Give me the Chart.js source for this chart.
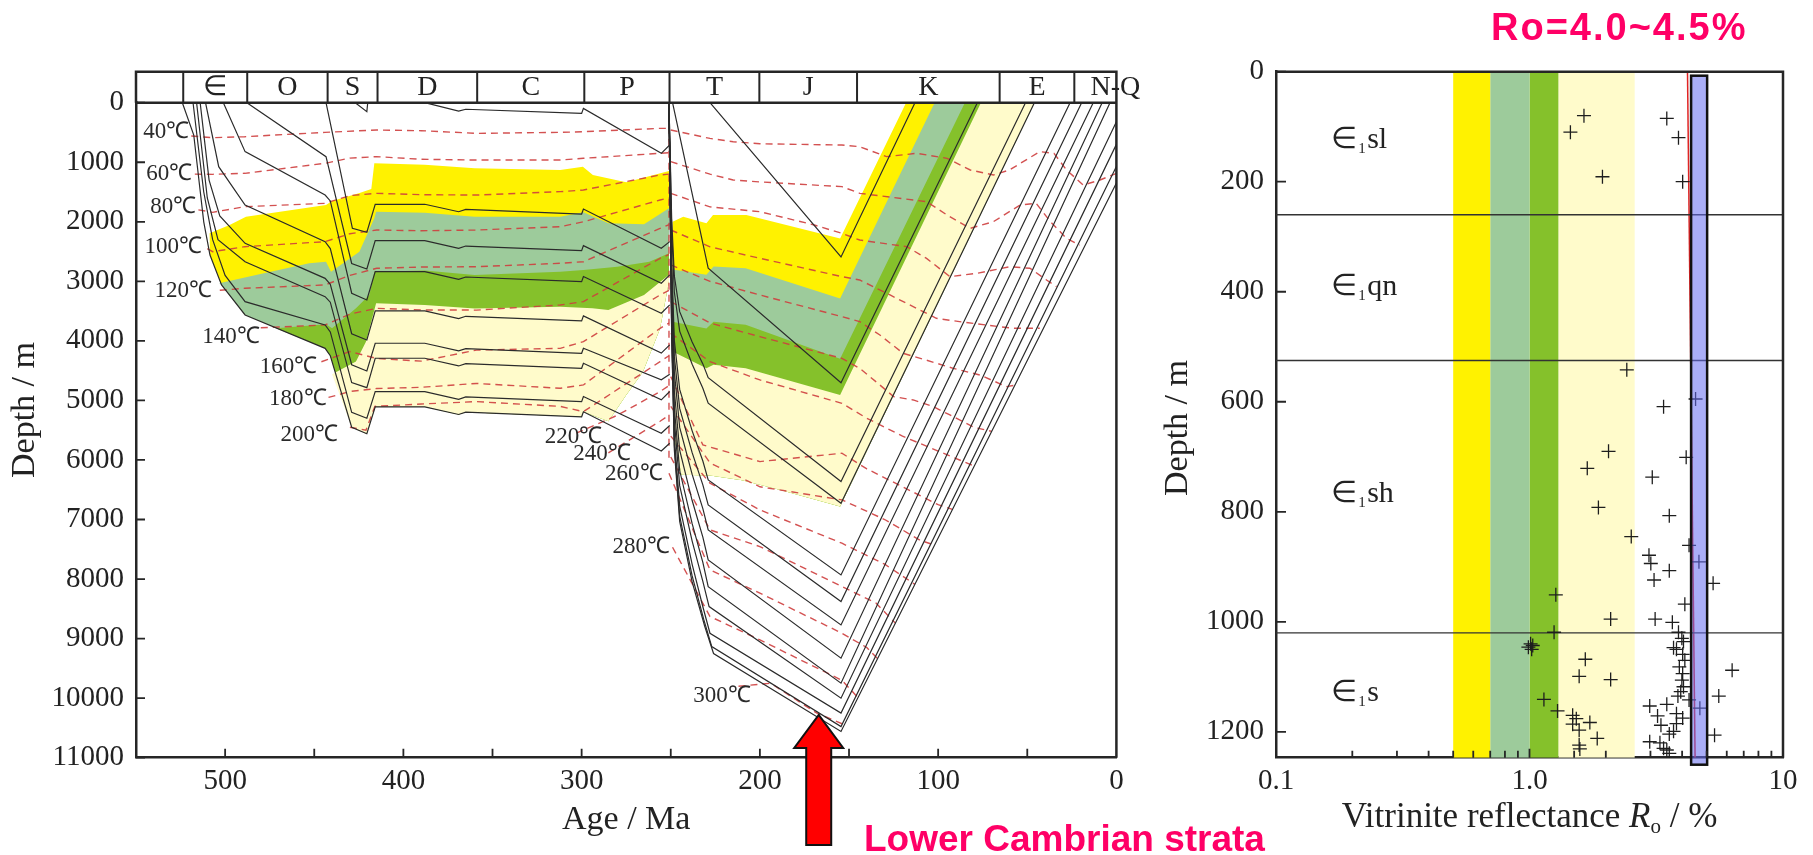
<!DOCTYPE html>
<html>
<head>
<meta charset="utf-8">
<title>Burial history and vitrinite reflectance</title>
<script src="https://cdn.jsdelivr.net/npm/chart.js@4.4.1/dist/chart.umd.min.js"></script>
<style>
  html, body { margin: 0; padding: 0; background: #fff; }
  body { position: relative; width: 1813px; height: 855px; overflow: hidden; }
  #burialChart { position: absolute; left: 0; top: 0; }
  #roChart { position: absolute; left: 1160px; top: 0; }
  .note { position: absolute; color: #ff0066; font: bold 37px/37px "Liberation Sans", Arial, sans-serif; white-space: nowrap; }
</style>
</head>
<body>
<canvas id="burialChart" width="1160" height="855"></canvas>
<canvas id="roChart" width="653" height="855"></canvas>
<div class="note" style="left:864px; top:820px;">Lower Cambrian strata</div>
<div class="note" style="left:1491px; top:8px; font-size:38px; line-height:38px; letter-spacing:2px;">Ro=4.0~4.5%</div>
<script>
// ---------- burial history (age Ma, depth m) ----------
const periodNames = ['∈', 'O', 'S', 'D', 'C', 'P', 'T', 'J', 'K', 'E', 'N-Q'];
const periodBounds = [523.5, 487.6, 442.5, 414.5, 358.6, 298.5, 250.7, 200.3, 145.5, 65.5, 23.6, 0];

// horizons, Cambrian to Permian
const burialLinesLeft = [
  [[388,0],[369,140],[365,110],[300,180],[299,95],[255.3,850],[250.6,710]],
  [[427,0],[420.5,150],[420,0]],
  [[443.4,0],[428.6,2110],[420.5,2176],[415.8,1706],[388,1706],[369,1831],[365,1792],[300,1870],[299,1785],[255.3,2445],[250.6,2333]],
  [[487.8,0],[443.4,906],[429,2700],[420.5,2793],[415.8,2317],[388,2317],[369,2446],[365,2407],[300,2485],[299,2400],[255.3,3031],[250.6,2892]],
  [[501,0],[488.8,822],[443.9,1550],[441,1650],[429,3200],[420.5,3313],[415.8,2837],[388,2837],[369,2966],[365,2927],[300,3005],[299,2920],[255.3,3535],[250.6,3395]],
  [[511,0],[503.6,1074],[488.8,1718],[443.9,2334],[441,2450],[429,3880],[420.5,3985],[415.8,3497],[388,3497],[369,3626],[365,3587],[300,3665],[299,3580],[255.3,4206],[250.6,4066]],
  [[514,0],[509,1300],[503,1900],[488.8,2362],[443.9,2950],[441,3050],[429,4400],[420.5,4505],[415.8,4040],[388,4040],[369,4169],[365,4130],[300,4208],[299,4123],[255.3,4654],[250.6,4560]],
  [[516,0],[510,1600],[504,2300],[488.8,2670],[443.9,3257],[441,3350],[429,4700],[420.5,4785],[415.8,4292],[388,4292],[369,4421],[365,4382],[300,4460],[299,4375],[255.3,4990],[250.6,4850]],
  [[518,0],[512,1500],[507,2300],[500,2900],[488.8,3341],[443.9,3733],[441,3850],[429,5200],[420.5,5300],[415.8,4852],[388,4852],[369,4981],[365,4942],[300,5020],[299,4935],[255.3,5550],[250.6,5420]],
  [[524,0],[517.6,543],[512,2000],[508.5,2558],[502,3061],[488.8,3565],[443.9,4125],[441,4250],[429,5450],[420.5,5560],[415.8,5107],[388,5107],[369,5236],[365,5197],[300,5275],[299,5190],[255.3,5850],[250.6,5720]]
];

// horizons, Triassic to present
const burialLinesRight = [
  [[228,0],[154.5,2590],[113,0]],
  [[249,0],[229,2780],[154.5,4704],[78,0]],
  [[251,0],[249.5,1939],[248,2909],[245,3509],[238,4017],[232,4386],[229,4617],[154.5,6363],[51,0]],
  [[251,0],[249.5,2120],[248,3180],[245,3836],[238,4391],[232,4795],[229,5047],[154.5,6727],[46,0]],
  [[251,0],[249.5,2661],[248,3991],[245,4815],[238,5511],[232,6018],[229,6335],[154.5,7931],[26,0]],
  [[251,0],[249.5,2837],[248,4256],[245,5134],[238,5877],[232,6417],[229,6755],[154.5,8378],[19.5,0]],
  [[251,0],[249.5,3014],[248,4520],[245,5453],[238,6242],[232,6816],[229,7175],[154.5,8770],[13,0]],
  [[251,0],[249.5,3225],[248,4838],[245,5836],[238,6681],[232,7295],[229,7679],[154.5,9329],[8,0]],
  [[251,0],[249.5,3413],[248,5120],[245,6177],[238,7070],[232,7721],[229,8127],[154.5,9749],[3.6,0]],
  [[251,0],[249.5,3554],[248,5331],[245,6431],[238,7362],[232,8039],[228.5,8462],[154.5,10000],[0,320]],
  [[251,0],[249.5,3742],[248,5613],[245,6772],[238,7752],[232,8465],[228,8910],[154.5,10250],[0,700]],
  [[251,0],[249.5,3836],[248,5754],[245,6942],[238,7947],[231.5,8677],[227,9134],[154.5,10477],[0,1070]],
  [[251,0],[249.5,3885],[248,5828],[245,7030],[238,8048],[231,8788],[226,9250],[154.5,10560],[0,1350]]
];

const isoTemps = [40, 60, 80, 100, 120, 140, 160, 180, 200, 220, 240, 260, 280, 300];

const isothermsLeft = [
  [[519,560],[507,587],[489,571],[444,498],[415,459],[390,470],[359,515],[312,498],[299,487],[256,431],[251,430]],
  [[517,1200],[507,1203],[489,1186],[444,1018],[430,930],[415,906],[390,950],[359,963],[312,962],[299,934],[256,850],[251,840]],
  [[515,1800],[507,1841],[489,1746],[444,1690],[430,1560],[415,1522],[390,1545],[359,1551],[312,1494],[299,1466],[256,1214],[251,1200]],
  [[510,2450],[507,2502],[489,2418],[444,2334],[430,2200],[415,2138],[390,2150],[359,2139],[312,2082],[299,2000],[256,1634],[251,1600]],
  [[503,3150],[489,3117],[444,3061],[430,2900],[415,2781],[390,2760],[359,2755],[312,2697],[299,2670],[256,2110],[251,2050]],
  [[480,3780],[444,3733],[430,3550],[415,3453],[390,3480],[359,3483],[312,3397],[299,3341],[256,2613],[251,2550]],
  [[446,4350],[430,4180],[415,4295],[390,4340],[359,4155],[312,4125],[299,4013],[256,3229],[251,3150]],
  [[442,4950],[430,4850],[415,4800],[390,4780],[359,4715],[312,4796],[299,4740],[256,3789],[251,3700]],
  [[430,5450],[421,5500],[416,5100],[390,5060],[359,5020],[312,5100],[299,5188],[256,4349],[251,4250]],
  [[303,5550],[280,5250],[256,4852],[251,4750]],
  [[285,5880],[256,5350],[251,5250]]
];

const isothermsRight = [
  [[250,459],[228,600],[215,655],[200,690],[154,711],[144,739],[129,906],[112,850],[95,934],[82,1130],[69,1214],[60,1130],[43,822],[35,850],[28,1130],[18.6,1382],[9.2,1298],[0,1186]],
  [[250,990],[228,1200],[215,1298],[200,1330],[154,1410],[144,1522],[106.5,1662],[95,1886],[82,2110],[69,1998],[54,1718],[45,1690],[37,1998],[28,2278],[20.6,2390]],
  [[250,1522],[228,1750],[200,1830],[170,2050],[154,2194],[144,2306],[117.6,2418],[106.5,2614],[93.4,2921],[78.4,2866],[59.8,2754],[48.5,2781],[39.2,2977],[33.6,3089]],
  [[250,2138],[228,2420],[200,2613],[154,2921],[144,2977],[127,3229],[108.4,3509],[101,3621],[88,3677],[73,3733],[58,3789],[43,3789]],
  [[250,2725],[228,3000],[200,3229],[154,3593],[144,3677],[132.7,3901],[119.6,4209],[110,4293],[91.5,4461],[76.6,4573],[61.6,4768],[56,4741]],
  [[250,3341],[228,3700],[200,3929],[154,4293],[144,4461],[132.7,4740],[125,4936],[114,4992],[102.7,5104],[93.4,5244],[80,5450],[70,5520]],
  [[250,3873],[228,4349],[200,4656],[154,5048],[140,5300],[120,5600],[100,5850],[80,6100]],
  [[250,4600],[232,5747],[200,6027],[154,5887],[140,6150],[120,6450],[100,6750],[92,6830]],
  [[250,5100],[228,6050],[200,6450],[154,6670],[130,7000],[110,7350],[102,7430]],
  [[250,5600],[228,6390],[200,6838],[154,7398],[130,7750],[113,8090]],
  [[250,5950],[228,7174],[200,7454],[154,8125],[135,8400],[124,8740]],
  [[251,6223],[228,7846],[200,8237],[154,8909],[140,9150],[134,9336]],
  [[249,7466],[228,8629],[200,9021],[154,9700],[145,9990]],
  [[212,9800],[194,9749],[168,10252],[154,10430],[152,10409]]
];

const isoJoin = [[251,0],[251,6000]];

// where each temperature label sits (age, depth)
const tempLabelAt = [[533,497],[531.3,1197],[529.1,1746],[529.1,2428],[523.5,3156],[496.7,3929],[464.5,4432],[459.2,4975],[452.8,5583],[304.6,5611],[288.6,5902],[270.7,6234],[266.5,7466],[221.3,9958]];

// maturity zones: upper limits, Cambrian to Permian
const yellowTopLeft = [[508.7,2194],[497.5,2054],[488.3,1914],[443.4,1718],[440,1650],[425,1520],[418,1450],[416.3,1018],[388,1040],[360,1100],[312,1130],[299.3,1074],[293.7,1214],[275,1337],[251,1147]];
const grayTopLeft = [[503.3,3033],[482.7,2893],[452.8,2697],[443.4,2669],[440.6,2837],[424.7,2502],[416.3,1942],[415.3,1830],[388,1850],[360,1915],[312,1914],[299,1841],[285,2026],[265,2043],[251,1774]];
const greenTopLeft = [[471.5,3789],[443.4,3722],[440,3789],[426.6,3453],[419.1,3229],[416.3,2837],[388,2820],[360,2895],[312,2837],[299,2809],[280,2753],[262,2669],[251,2529]];
const paleTopLeft = [[440,4560],[426.6,4348],[421,4013],[415.3,3369],[388,3399],[360,3455],[312,3426],[294,3453],[285,3481],[265,3230],[251,2890]];
const outerBottomLeft = [[251,3000],[256,3790],[265.6,4520],[275,4910],[285,5350],[299,5190],[300,5275],[365,5197],[369,5236],[388,5107],[415.8,5107],[420.5,5560],[429,5450],[441,4250],[443.9,4125],[488.8,3565],[502,3061],[508.5,2558],[512,2000],[517.6,543],[524,0]];

// maturity zones: upper limits, Triassic to present
const yellowTopRight = [[249,2000],[243,1914],[230,2026],[226.3,1886],[207.6,1886],[155,2280],[118,0]];
const grayTopRight = [[249,2800],[230,2890],[226,2750],[208,2780],[155,3290],[102,0]];
const greenTopRight = [[249,3680],[230,3790],[226,3680],[208,3730],[155,4300],[85,0]];
const paleTopRight = [[249,4180],[230,4460],[226,4400],[208,4460],[155,4910],[76,0]];
const paleBottomRight = [[46,0],[155,6780],[189,6500],[210,6340],[228,6260],[244,6250],[247.5,5700],[249,4600]];

const arrowTip = [167, 10282];

// ---------- vitrinite reflectance (Ro %, depth m) ----------
const roBands = [[0.5,0.7],[0.7,1.0],[1.0,1.3],[1.3,2.6]];
const formationNames = ['sl', 'qn', 'sh', 's'];
const formationLabelDepths = [124, 391, 767, 1130];
const formationLabelRo = 0.165;
const formationBases = [260, 525, 1020];
const roPoints = [
  [1.64,80],[1.45,110],[1.94,191],[3.48,85],[3.87,120],[4.02,200],
  [2.42,542],[3.38,609],[4.52,595],[2.05,690],[1.69,721],[3.05,737],[4.15,701],[1.87,792],[3.56,807],[2.52,845],
  [4.26,861],[2.96,879],[3.01,894],[3.56,907],[4.66,891],[3.10,924],[5.30,930],[1.27,951],[4.10,968],[2.09,995],
  [3.13,995],[3.66,1001],[1.25,1019],[3.87,1019],[3.99,1030],[4.05,1036],[1.01,1040],[1.03,1043],[0.99,1046],
  [1.02,1050],[3.70,1047],[3.80,1050],[4.02,1059],[1.66,1068],[4.10,1070],[3.90,1082],[6.30,1088],[1.57,1099],
  [2.09,1105],[4.02,1094],[3.99,1106],[4.05,1118],[3.95,1127],[3.85,1135],[5.58,1135],[1.14,1141],[4.26,1142],
  [3.48,1150],[2.98,1153],[4.70,1157],[1.29,1162],[3.80,1167],[1.48,1170],[1.53,1176],[3.20,1171],[4.02,1175],
  [1.73,1183],[1.48,1186],[3.80,1185],[3.30,1188],[1.57,1197],[3.70,1199],[5.37,1206],[3.56,1204],[1.85,1212],
  [2.98,1218],[3.27,1220],[1.57,1224],[3.38,1230],[1.58,1231],[3.48,1233],[3.56,1239]
];
const roTrend = [[4.2,0],[4.5,1247]];
const roWindow = [4.34, 5.02];
const roDepthMax = 1247;

// ---------- drawing ----------
const SERIF = '"Liberation Serif", "Times New Roman", serif';
const INK = '#262626';
const ISO = 'rgba(206,62,62,0.9)';
const zoneColors = ['#fff200', '#9dcb9b', '#85c12b', '#fffbcb'];
Chart.defaults.font.family = SERIF;
Chart.defaults.color = '#222';

const xy = pts => pts.map(([x, y]) => ({x, y}));
const lineSet = (pts, color, width, dash, order) => ({
  data: xy(pts), showLine: true, borderColor: color, borderWidth: width, borderDash: dash,
  pointRadius: 0, fill: false, order
});
const shapeSet = (pts, color, order) => ({
  data: xy(pts), showLine: true, borderColor: 'rgba(0,0,0,0)', borderWidth: 0.01,
  backgroundColor: color, fill: 'shape', pointRadius: 0, order
});

const burialDatasets = [];
[yellowTopLeft, grayTopLeft, greenTopLeft, paleTopLeft].forEach((top, i) => {
  const poly = top.concat(outerBottomLeft.filter(p => p[0] < top[0][0]));
  burialDatasets.push(shapeSet(poly, zoneColors[i], 20 - i));
});
[yellowTopRight, grayTopRight, greenTopRight, paleTopRight].forEach((top, i) => {
  burialDatasets.push(shapeSet(top.concat(paleBottomRight), zoneColors[i], 20 - i));
});
[...isothermsLeft, ...isothermsRight, isoJoin].forEach(p => burialDatasets.push(lineSet(p, ISO, 1.4, [7, 5], 2)));
[...burialLinesLeft, ...burialLinesRight].forEach(p => burialDatasets.push(lineSet(p, '#2b2b2b', 1.2, [], 1)));

function drawRotated(ctx, text, x, y, font) {
  ctx.save();
  ctx.translate(x, y);
  ctx.rotate(-Math.PI / 2);
  ctx.font = font;
  ctx.textAlign = 'center';
  ctx.textBaseline = 'middle';
  ctx.fillText(text, 0, 0);
  ctx.restore();
}

const burialDecor = {
  id: 'burialDecor',
  afterDatasetsDraw(chart) {
    const {ctx, scales: {x, y}} = chart;
    ctx.save();
    ctx.fillStyle = '#2a2a2a';
    ctx.font = '23px ' + SERIF;
    ctx.textAlign = 'center';
    ctx.textBaseline = 'middle';
    isoTemps.forEach((t, i) => {
      const [age, depth] = tempLabelAt[i];
      ctx.fillText(t + '℃', x.getPixelForValue(age), y.getPixelForValue(depth));
    });
    ctx.restore();
  },
  afterDraw(chart) {
    const {ctx, chartArea: a, scales: {x, y}} = chart;
    const barTop = a.top - 31;
    ctx.save();
    ctx.strokeStyle = INK;
    // frame and period bar
    ctx.lineWidth = 2.5;
    ctx.beginPath();
    ctx.moveTo(a.left, a.top); ctx.lineTo(a.left, barTop); ctx.lineTo(a.right, barTop);
    ctx.lineTo(a.right, a.bottom);
    ctx.moveTo(a.left, a.top); ctx.lineTo(a.right, a.top);
    ctx.stroke();
    ctx.lineWidth = 2;
    ctx.beginPath();
    periodBounds.slice(0, -1).forEach(b => {
      const px = x.getPixelForValue(b);
      ctx.moveTo(px, barTop); ctx.lineTo(px, a.top);
    });
    ctx.stroke();
    ctx.fillStyle = '#222';
    ctx.font = '28px ' + SERIF;
    ctx.textAlign = 'center';
    ctx.textBaseline = 'middle';
    periodNames.forEach((name, i) => {
      let px = (x.getPixelForValue(periodBounds[i]) + x.getPixelForValue(periodBounds[i + 1])) / 2;
      if (i === periodNames.length - 1) px += 20;
      ctx.fillText(name, px, barTop + 16);
    });
    // inward ticks
    ctx.lineWidth = 1.8;
    ctx.beginPath();
    y.ticks.forEach(t => {
      const py = y.getPixelForValue(t.value);
      ctx.moveTo(a.left, py); ctx.lineTo(a.left + 9, py);
    });
    for (let v = 50; v < 550; v += 50) {
      const px = x.getPixelForValue(v);
      ctx.moveTo(px, a.bottom); ctx.lineTo(px, a.bottom - 9);
    }
    ctx.stroke();
    // axis titles
    ctx.fillStyle = '#222';
    drawRotated(ctx, 'Depth / m', 25, 410, '34px ' + SERIF);
    ctx.font = '34px ' + SERIF;
    ctx.textAlign = 'center';
    ctx.textBaseline = 'middle';
    ctx.fillText('Age / Ma', (a.left + a.right) / 2, 820);
    // arrow
    const tx = x.getPixelForValue(arrowTip[0]), ty = y.getPixelForValue(arrowTip[1]);
    ctx.beginPath();
    ctx.moveTo(tx, ty);
    ctx.lineTo(tx + 24.5, ty + 33); ctx.lineTo(tx + 12.5, ty + 33); ctx.lineTo(tx + 12.5, ty + 130);
    ctx.lineTo(tx - 12.5, ty + 130); ctx.lineTo(tx - 12.5, ty + 33); ctx.lineTo(tx - 24.5, ty + 33);
    ctx.closePath();
    ctx.fillStyle = '#ff0000';
    ctx.fill();
    ctx.lineWidth = 2;
    ctx.strokeStyle = '#111';
    ctx.stroke();
    ctx.restore();
  }
};

new Chart(document.getElementById('burialChart'), {
  type: 'scatter',
  data: {datasets: burialDatasets},
  options: {
    responsive: false,
    animation: false,
    events: [],
    layout: {padding: {top: 102.7, right: 43.6, bottom: 10, left: 0}},
    plugins: {legend: {display: false}, tooltip: {enabled: false}},
    scales: {
      x: {
        type: 'linear', reverse: true, min: 0, max: 550,
        afterFit: s => { s.height = 87.3; },
        grid: {display: false, drawTicks: false},
        border: {display: true, color: INK, width: 2.5},
        ticks: {stepSize: 100, includeBounds: false, padding: 6, maxRotation: 0, autoSkip: false,
          font: {size: 29}, callback: v => String(v)}
      },
      y: {
        type: 'linear', reverse: true, min: 0, max: 11000,
        afterFit: s => { s.width = 136; },
        grid: {display: false, drawTicks: false},
        border: {display: true, color: INK, width: 2.5},
        ticks: {stepSize: 1000, padding: 12, autoSkip: false, font: {size: 29}, callback: v => String(v)}
      }
    }
  },
  plugins: [burialDecor]
});

// ---------- reflectance chart ----------
const roDatasets = [];
roBands.forEach(([lo, hi], i) => {
  roDatasets.push(shapeSet([[lo, 0], [hi, 0], [hi, roDepthMax], [lo, roDepthMax]], zoneColors[i], 20));
});
formationBases.forEach(d => roDatasets.push(lineSet([[0.1, d], [10, d]], '#333', 1.3, [], 3)));
roDatasets.push(lineSet(roTrend, '#e02424', 1.5, [], 4));
roDatasets.push({
  data: xy(roPoints), showLine: false, pointStyle: 'cross', pointRadius: 7,
  borderColor: '#1e1e1e', borderWidth: 1.3, order: 2
});

const roDecor = {
  id: 'roDecor',
  afterDatasetsDraw(chart) {
    const {ctx, chartArea: a, scales: {x, y}} = chart;
    ctx.save();
    // maturity window of the Lower Cambrian
    const x0 = x.getPixelForValue(roWindow[0]), x1 = x.getPixelForValue(roWindow[1]);
    ctx.fillStyle = 'rgba(100,108,240,0.55)';
    ctx.fillRect(x0, a.top + 4, x1 - x0, a.bottom - a.top + 3);
    ctx.lineWidth = 2.5;
    ctx.strokeStyle = '#111';
    ctx.strokeRect(x0, a.top + 4, x1 - x0, a.bottom - a.top + 3);
    // formation names
    ctx.fillStyle = '#222';
    ctx.textAlign = 'left';
    ctx.textBaseline = 'middle';
    formationNames.forEach((name, i) => {
      const px = x.getPixelForValue(formationLabelRo), py = y.getPixelForValue(formationLabelDepths[i]);
      ctx.font = '30px ' + SERIF;
      ctx.fillText('∈', px, py);
      const w = ctx.measureText('∈').width;
      ctx.font = '15px ' + SERIF;
      ctx.fillText('1', px + w + 1, py + 9);
      ctx.font = '30px ' + SERIF;
      ctx.fillText(name, px + w + 10, py);
    });
    ctx.restore();
  },
  afterDraw(chart) {
    const {ctx, chartArea: a, scales: {x, y}} = chart;
    ctx.save();
    ctx.strokeStyle = INK;
    ctx.lineWidth = 2.5;
    ctx.beginPath();
    ctx.moveTo(a.left, a.top); ctx.lineTo(a.right, a.top); ctx.lineTo(a.right, a.bottom);
    ctx.stroke();
    ctx.lineWidth = 1.8;
    ctx.beginPath();
    y.ticks.forEach(t => {
      const py = y.getPixelForValue(t.value);
      ctx.moveTo(a.left, py); ctx.lineTo(a.left + 10, py);
    });
    x.ticks.forEach(t => {
      const px = x.getPixelForValue(t.value);
      const major = Math.abs(Math.log10(t.value) - Math.round(Math.log10(t.value))) < 1e-6;
      ctx.moveTo(px, a.bottom); ctx.lineTo(px, a.bottom - (major ? 9 : 7));
    });
    ctx.stroke();
    // titles
    ctx.fillStyle = '#222';
    drawRotated(ctx, 'Depth / m', 18, 428, '34px ' + SERIF);
    const parts = [
      ['Vitrinite reflectance ', '35px ' + SERIF, 0],
      ['R', 'italic 35px ' + SERIF, 0],
      ['o', '21px ' + SERIF, 9],
      [' / %', '35px ' + SERIF, 0]
    ];
    let total = 0;
    parts.forEach(([t, f]) => { ctx.font = f; total += ctx.measureText(t).width; });
    let cx = (a.left + a.right) / 2 - total / 2;
    ctx.textAlign = 'left';
    ctx.textBaseline = 'middle';
    parts.forEach(([t, f, dy]) => {
      ctx.font = f;
      ctx.fillText(t, cx, 818 + dy);
      cx += ctx.measureText(t).width;
    });
    ctx.restore();
  }
};

new Chart(document.getElementById('roChart'), {
  type: 'scatter',
  data: {datasets: roDatasets},
  options: {
    responsive: false,
    animation: false,
    events: [],
    layout: {padding: {top: 71.7, right: 30, bottom: 10, left: 0}},
    plugins: {legend: {display: false}, tooltip: {enabled: false}},
    scales: {
      x: {
        type: 'logarithmic', min: 0.1, max: 10,
        afterFit: s => { s.height = 87.3; },
        grid: {display: false, drawTicks: false},
        border: {display: true, color: INK, width: 2.5},
        ticks: {
          autoSkip: false, maxRotation: 0, padding: 6, font: {size: 29},
          callback: v => {
            const e = Math.log10(v);
            if (Math.abs(e - Math.round(e)) > 1e-6) return '';
            return ['0.1', '1.0', '10'][Math.round(e) + 1];
          }
        }
      },
      y: {
        type: 'linear', reverse: true, min: 0, max: roDepthMax,
        afterFit: s => { s.width = 116; },
        grid: {display: false, drawTicks: false},
        border: {display: true, color: INK, width: 2.5},
        ticks: {stepSize: 200, includeBounds: false, padding: 12, autoSkip: false, font: {size: 29},
          callback: v => String(v)}
      }
    }
  },
  plugins: [roDecor]
});
</script>
</body>
</html>
